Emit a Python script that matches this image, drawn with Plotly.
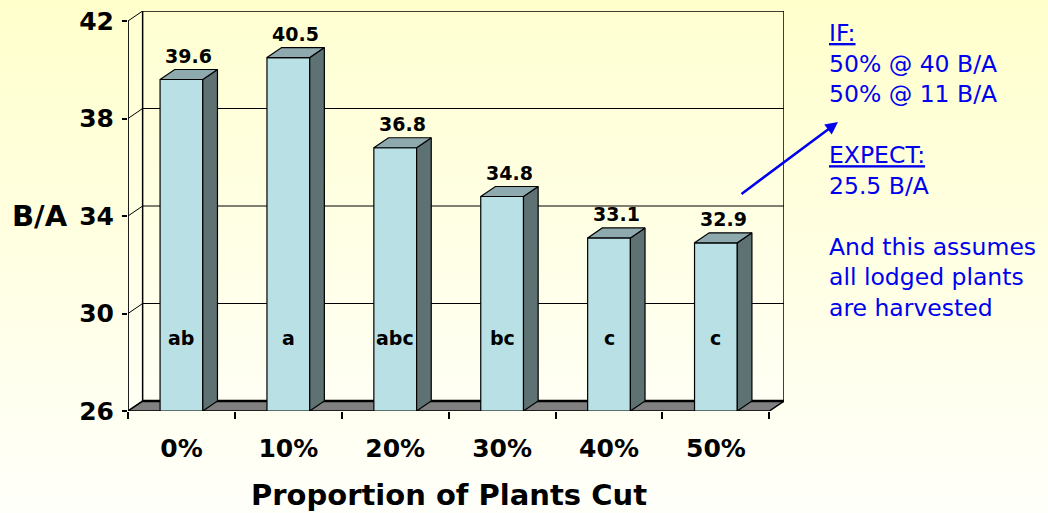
import base64
import plotly.graph_objects as go

# ---------------- data ----------------
categories = ["0%", "10%", "20%", "30%", "40%", "50%"]
values = [39.6, 40.5, 36.8, 34.8, 33.1, 32.9]
letters = ["ab", "a", "abc", "bc", "c", "c"]
y_ticks = [26, 30, 34, 38, 42]
note_lines = ["<u>IF:</u>", "50% @ 40 B/A", "50% @ 11 B/A", "",
              "<u>EXPECT:</u>", "25.5 B/A", "",
              "And this assumes", "all lodged plants", "are harvested"]

# ---------------- style ----------------
DX, DY = 0.137, 0.41          # 3D depth offset (axis units)
BW = 0.40                     # bar front width
Y0, Y1 = y_ticks[0], y_ticks[-1]
X0, X1 = -0.5, len(categories) - 0.5
FRONT = "#B9E0E5"
SIDE = "#5E7273"
TOP = "#8FAAAE"
FLOOR = "#808080"
FONT = "DejaVu Sans"

fig = go.Figure()

def poly(xs, ys, fill=None, width=1.2, grad=None):
    kw = dict(x=list(xs) + [xs[0]], y=list(ys) + [ys[0]], mode="lines",
              line=dict(color="black", width=width), hoverinfo="skip",
              showlegend=False)
    if grad is not None:
        kw.update(fill="toself", fillgradient=dict(type="vertical", colorscale=grad))
    elif fill is not None:
        kw.update(fill="toself", fillcolor=fill)
    fig.add_trace(go.Scatter(**kw))

wall_grad = [[0, "#FFFFF4"], [1, "#FFFFD2"]]
# side wall
poly([X0, X0 + DX, X0 + DX, X0], [Y0, Y0 + DY, Y1 + DY, Y1], grad=wall_grad, width=1)
# back wall
poly([X0 + DX, X1 + DX, X1 + DX, X0 + DX], [Y0 + DY, Y0 + DY, Y1 + DY, Y1 + DY],
     grad=wall_grad, width=1.5)

# gridlines on back wall + connectors on side wall
gx, gy = [], []
for v in y_ticks[1:-1]:
    gx += [X0, X0 + DX, X1 + DX, None]
    gy += [v, v + DY, v + DY, None]
fig.add_trace(go.Scatter(x=gx, y=gy, mode="lines", line=dict(color="black", width=1),
                         hoverinfo="skip", showlegend=False))

# floor
poly([X0, X1, X1 + DX, X0 + DX], [Y0, Y0, Y0 + DY, Y0 + DY], fill=FLOOR, width=1.5)
fig.add_trace(go.Scatter(x=[X0 + DX, X1 + DX], y=[Y0 + DY, Y0 + DY], mode="lines",
                         line=dict(color="black", width=2.5), hoverinfo="skip",
                         showlegend=False))

# front vertical axis line
fig.add_trace(go.Scatter(x=[X0, X0], y=[Y0, Y1], mode="lines",
                         line=dict(color="black", width=1.5), hoverinfo="skip",
                         showlegend=False))

# bars
for i, v in enumerate(values):
    l, r = i - BW / 2, i + BW / 2
    poly([l, r, r, l], [Y0, Y0, v, v], fill=FRONT, width=1.2)
    poly([r, r + DX, r + DX, r], [Y0, Y0 + DY, v + DY, v], fill=SIDE, width=1.2)
    poly([l, r, r + DX, l + DX], [v, v, v + DY, v + DY], fill=TOP, width=1.2)

annotations = []
for i, (v, s) in enumerate(zip(values, letters)):
    annotations.append(dict(x=i + DX / 2, y=v + DY, xref="x", yref="y", text=f"{v:.1f}",
                            showarrow=False, yanchor="bottom", yshift=1,
                            font=dict(family=FONT, size=19, color="black", weight="bold")))
    annotations.append(dict(x=i, y=29, xref="x", yref="y", text=s, showarrow=False,
                            font=dict(family=FONT, size=19, color="black", weight="bold")))

# axis titles
annotations.append(dict(x=(X0 + X1) / 2, y=-0.21, xref="x", yref="paper",
                        text="Proportion of Plants Cut", showarrow=False, yanchor="middle",
                        xanchor="center",
                        font=dict(family=FONT, size=29, color="black", weight="bold")))
annotations.append(dict(x=-0.134, y=0.4875, xref="paper", yref="paper", text="B/A",
                        showarrow=False, xanchor="center", yanchor="middle",
                        font=dict(family=FONT, size=29, color="black", weight="bold")))
# note text
annotations.append(dict(x=1.0655, y=1.0, xref="paper", yref="paper", xanchor="left",
                        yanchor="top", align="left", yshift=-6, text="<br>".join(note_lines),
                        showarrow=False, font=dict(family=FONT, size=23.5, color="#0000EE")))
# arrow
annotations.append(dict(x=(838 - 128) / 656, y=(411 - 122) / 400, xref="paper",
                        yref="paper", ax=-98, ay=73, showarrow=True, text="",
                        arrowhead=2, arrowsize=1, arrowwidth=2.5, arrowcolor="#0000EE"))

svg = ('<svg xmlns="http://www.w3.org/2000/svg" width="1048" height="513" '
       'preserveAspectRatio="none"><defs><linearGradient id="g" x1="0" y1="0" x2="0" '
       'y2="1"><stop offset="0" stop-color="#FFFFCC"/><stop offset="1" '
       'stop-color="#FFFFFA"/></linearGradient></defs><rect width="1048" height="513" '
       'fill="url(#g)"/></svg>')
src = "data:image/svg+xml;base64," + base64.b64encode(svg.encode()).decode()

fig.update_layout(
    width=1048, height=513,
    margin=dict(l=128, r=264, t=11, b=102, autoexpand=False),
    paper_bgcolor="white", plot_bgcolor="rgba(0,0,0,0)",
    showlegend=False,
    annotations=annotations,
    images=[dict(source=src, xref="paper", yref="paper", x=-128 / 656, y=1 + 11 / 400,
                 sizex=1048 / 656, sizey=513 / 400, sizing="stretch", layer="below",
                 xanchor="left", yanchor="top")],
    xaxis=dict(range=[X0 - 1e-6, X1 + DX], tickvals=list(range(len(categories))),
               ticktext=categories, ticks="", showgrid=False, zeroline=False,
               showline=False, ticklabelstandoff=20, automargin=False,
               tickfont=dict(family=FONT, size=25, color="black", weight="bold"),
               minor=dict(tickvals=[k - 0.5 for k in range(len(categories) + 1)],
                          ticks="outside", ticklen=7, tickcolor="black", tickwidth=1.5,
                          showgrid=False)),
    yaxis=dict(range=[Y0, Y1 + DY], tickvals=y_ticks, ticks="outside", ticklen=5,
               tickcolor="black", tickwidth=1.5, showgrid=False, zeroline=False,
               showline=False, ticklabelstandoff=3, automargin=False,
               tickfont=dict(family=FONT, size=25, color="black", weight="bold")),
)

fig.write_html("out.html", config={"displayModeBar": False},
               post_script="document.body.style.margin='0';document.body.style.overflow='hidden';")
